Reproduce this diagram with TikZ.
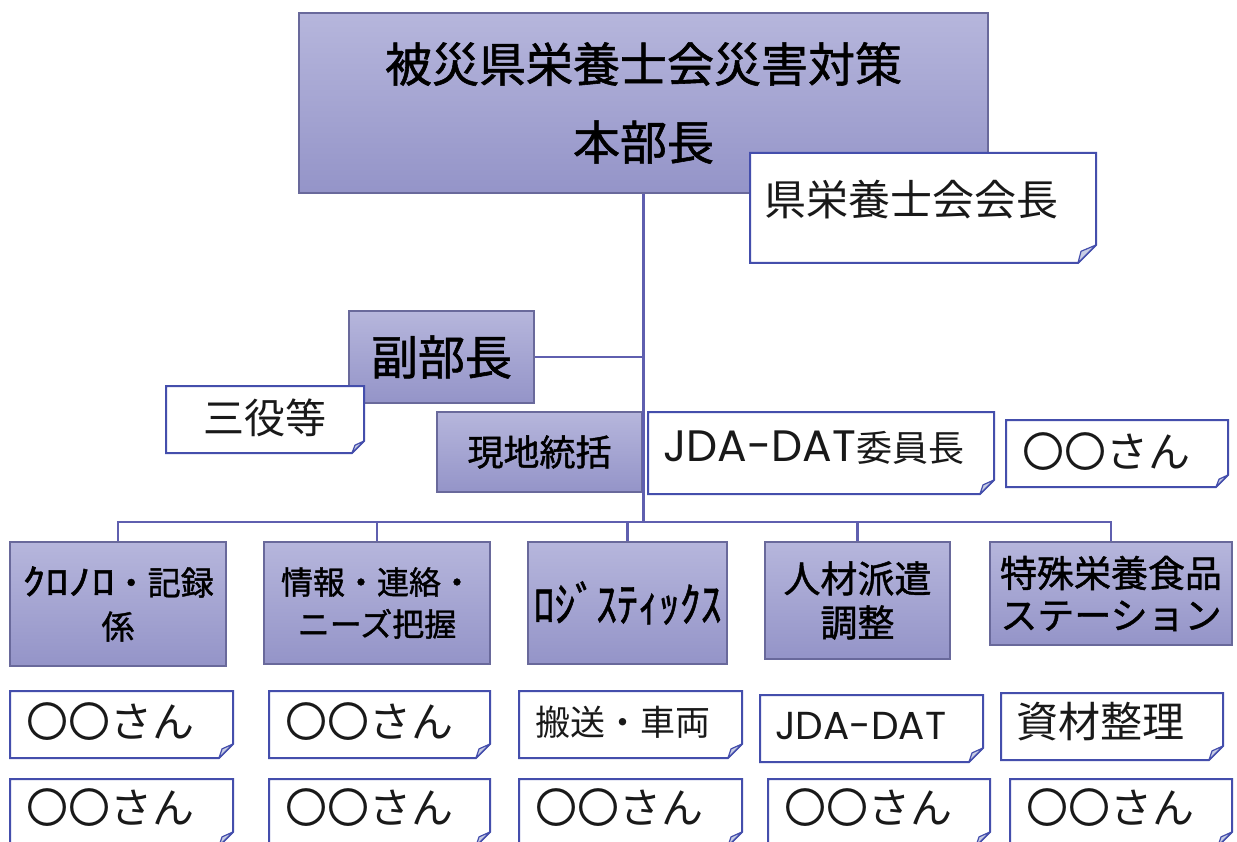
\documentclass[tikz,border=0pt]{standalone}
\usepackage{fontspec}
\usepackage{graphicx}
\newfontfamily\jp{Noto Sans CJK JP}
\newfontfamily\jpb[FakeBold=1.2]{Noto Sans CJK JP}
\newfontfamily\pop{Poppins}
\usetikzlibrary{calc}
\definecolor{boxtop}{RGB}{182,182,220}
\definecolor{boxbot}{RGB}{148,148,200}
\definecolor{boxedge}{RGB}{105,105,155}
\definecolor{linkc}{RGB}{95,95,175}
\definecolor{noteedge}{RGB}{68,78,172}
\definecolor{foldc}{RGB}{200,205,228}
\definecolor{txt}{RGB}{25,25,25}
\newcommand\fsz[2]{\jp\fontsize{#1}{#2}\selectfont}
\newcommand\fsb[2]{\jpb\fontsize{#1}{#2}\selectfont}
\tikzset{
 pbox/.style={draw=boxedge, line width=1.2pt, top color=boxtop, bottom color=boxbot, inner sep=0pt, align=center, text=black},
 link/.style={draw=linkc, line width=2.2pt},
 noteline/.style={draw=noteedge, line width=2pt, fill=white, line join=miter},
 notefold/.style={draw=noteedge, line width=1.2pt, fill=foldc, line join=round},
 notetext/.style={text=txt, inner sep=0pt, anchor=west},
}
\newcommand\notebox[6]{%
 \draw[noteline] (#2,#3) -- (#4,#3) -- (#4,#5-#6) -- (#4-#6,#5) -- (#2,#5) -- cycle;
 \draw[notefold] (#4,#5-#6) -- (#4-#6,#5) -- (#4-#6+3,#5-0.65*#6) -- cycle;
 \coordinate (#1) at ({(#2+#4)/2},{(#3+#5)/2});
}
\begin{document}
\begin{tikzpicture}[x=1pt,y=-1pt]
\fill[white] (0,0) rectangle (1237,842);
\useasboundingbox (0,0) rectangle (1237,842);
\clip (0,0) rectangle (1237,842);

% main boxes
\node[pbox, minimum width=689pt, minimum height=180pt, font=\fsb{47}{78}] (top) at (643.5,103) {被災県栄養士会災害対策\\本部長};
\node[pbox, minimum width=185pt, minimum height=92pt, font=\fsb{47}{56}] (fuku) at (441.5,357) {副部長};
\node[pbox, minimum width=205pt, minimum height=80pt, font=\fsb{36}{44}] (genchi) at (539.5,452) {現地統括};

% level 2 boxes
\node[pbox, minimum width=216pt, minimum height=124pt, font=\fsb{33}{44}] (b1) at (118,604) {\scalebox{1.4}[1.1]{ｸﾛﾉﾛ}・記録\\係};
\node[pbox, minimum width=226pt, minimum height=122pt, font=\fsb{32}{42}] (b2) at (377,603) {情報・連絡・\\ニーズ把握};
\node[pbox, minimum width=199pt, minimum height=122pt, font=\fsb{38}{44}] (b3) at (627.5,603) {\scalebox{1.1}[1.25]{ﾛｼﾞｽﾃｨｯｸｽ}};
\node[pbox, minimum width=185pt, minimum height=117pt, font=\fsb{37}{44}] (b4) at (857.5,600.5) {人材派遣\\調整};
\node[pbox, minimum width=242pt, minimum height=103pt, font=\fsb{37}{42}] (b5) at (1111,593.5) {特殊栄養食品\\ステーション};

% connectors
\coordinate (hub) at (643.5,522);
\draw[link] (top.south) -- (hub);
\draw[link] (fuku.east) -- (fuku.east -| top.south);
\draw[link] (hub) -| (b1.north);
\draw[link] (hub) -| (b2.north);
\draw[link] (hub) -| (b3.north);
\draw[link] (hub) -| (b4.north);
\draw[link] (hub) -| (b5.north);

% notes
\notebox{kaicho}{750}{153}{1096}{263}{18}
\node[notetext, font=\fsz{42}{50}] (kaicho-t) at (764,200) {県栄養士会会長};
\notebox{sanyaku}{166}{386}{364}{453}{12}
\node[notetext, anchor=center, font=\fsz{41}{50}] (sanyaku-t) at (265,418) {三役等};
\notebox{jdac}{648}{412}{994}{494}{14}
\node[notetext, font=\fsz{36}{44}] (jdac-t) at (663,448) {{\pop\fontsize{44}{50}\selectfont JDA-DAT}委員長};
\notebox{oo0}{1006}{420}{1228}{487}{12}
\node[notetext, font=\fsz{42}{50}] (oo0-t) at (1022,452) {〇〇さん};

% row 1
\notebox{r1a}{10}{691}{233}{758}{14}
\node[notetext, font=\fsz{42}{50}] (r1a-t) at (26,722) {〇〇さん};
\notebox{r1b}{269}{691}{490}{758}{14}
\node[notetext, font=\fsz{42}{50}] (r1b-t) at (285,722) {〇〇さん};
\notebox{r1c}{519}{691}{742}{758}{14}
\node[notetext, font=\fsz{35}{44}] (r1c-t) at (535,722) {搬送・車両};
\notebox{r1d}{760}{695}{983}{762}{14}
\node[notetext, font=\pop\fontsize{39}{46}\selectfont] (r1d-t) at (775,726) {JDA-DAT};
\notebox{r1e}{1001}{693}{1223}{760}{14}
\node[notetext, font=\fsz{42}{50}] (r1e-t) at (1016,722) {資材整理};

% row 2
\notebox{r2a}{10}{779}{233}{846}{14}
\node[notetext, font=\fsz{42}{50}] (r2a-t) at (26,808) {〇〇さん};
\notebox{r2b}{269}{779}{490}{846}{14}
\node[notetext, font=\fsz{42}{50}] (r2b-t) at (285,808) {〇〇さん};
\notebox{r2c}{519}{779}{742}{846}{14}
\node[notetext, font=\fsz{42}{50}] (r2c-t) at (535,808) {〇〇さん};
\notebox{r2d}{768}{779}{990}{846}{14}
\node[notetext, font=\fsz{42}{50}] (r2d-t) at (784,808) {〇〇さん};
\notebox{r2e}{1010}{779}{1232}{846}{14}
\node[notetext, font=\fsz{42}{50}] (r2e-t) at (1026,808) {〇〇さん};
\end{tikzpicture}
\end{document}
